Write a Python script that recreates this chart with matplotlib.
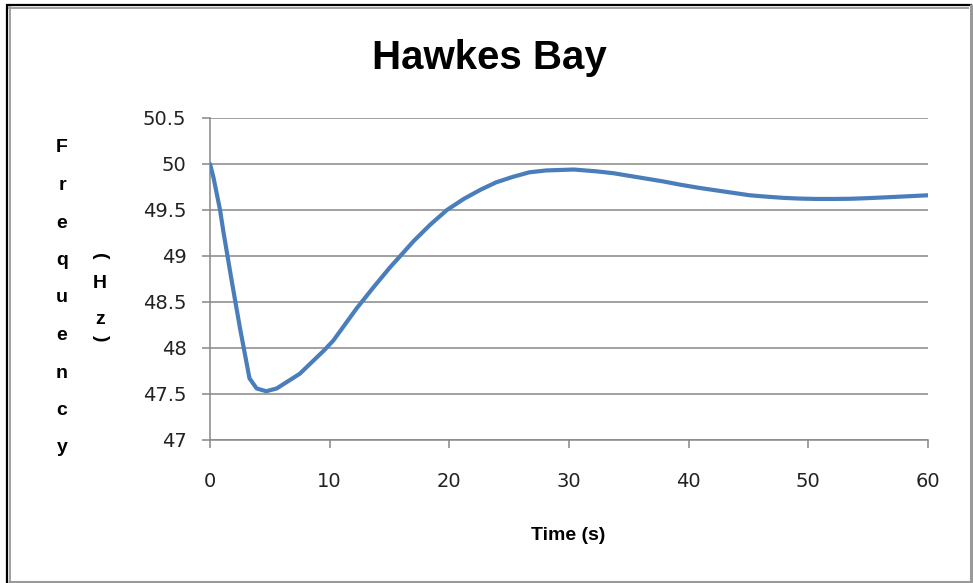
import matplotlib
matplotlib.use("Agg")
import matplotlib.pyplot as plt
from matplotlib.lines import Line2D

# ---- data ----
time_s = [0.0, 0.28, 0.84, 1.1, 1.8, 2.5, 3.3, 3.9, 4.7, 5.57, 7.5, 9.5, 10.3,
          12.25, 13.6, 15.0, 15.9, 17.0, 18.4, 19.8, 21.2, 22.6, 23.9, 25.3,
          26.7, 28.1, 30.4, 32.3, 33.7, 35.1, 36.5, 37.9, 39.3, 40.9, 43.0,
          45.1, 46.5, 47.9, 49.3, 50.7, 52.1, 53.5, 54.8, 56.2, 57.8, 60.0]
freq_hz = [50.0, 49.86, 49.50, 49.28, 48.74, 48.22, 47.67, 47.56, 47.53, 47.56,
           47.72, 47.97, 48.08, 48.43, 48.65, 48.87, 49.00, 49.16, 49.34, 49.50,
           49.62, 49.72, 49.80, 49.86, 49.91, 49.93, 49.94, 49.92, 49.90, 49.87,
           49.84, 49.81, 49.775, 49.74, 49.70, 49.66, 49.645, 49.632, 49.624,
           49.62, 49.62, 49.622, 49.628, 49.636, 49.646, 49.66]
x_ticks = [0, 10, 20, 30, 40, 50, 60]
y_ticks = [47, 47.5, 48, 48.5, 49, 49.5, 50, 50.5]
y_tick_labels = ["47", "47.5", "48", "48.5", "49", "49.5", "50", "50.5"]
title = "Hawkes Bay"
x_label = "Time (s)"
y_label_main = "Frequency"
y_label_unit = "(Hz)"

W, H = 973, 583
fig = plt.figure(figsize=(W / 100, H / 100), dpi=100)
fig.patch.set_facecolor("white")

def fx(px):
    return px / W

def fy(py):
    return 1 - py / H

ax = fig.add_axes([fx(210), fy(440), fx(928) - fx(210), fy(118) - fy(440)])
ax.plot(time_s, freq_hz, color="#4A7EBB", lw=3.0, solid_capstyle="round",
        solid_joinstyle="round", zorder=3)
ax.set_xlim(0, 60)
ax.set_ylim(47, 50.5)
ax.set_xticks(x_ticks)
ax.set_yticks(y_ticks)
ax.set_yticklabels(y_tick_labels)
grid_c = "#888888"
ax.grid(axis="y", color=grid_c, lw=1.1)
ax.set_axisbelow(True)
for s in ["top", "right"]:
    ax.spines[s].set_visible(False)
for s in ["left", "bottom"]:
    ax.spines[s].set_color(grid_c)
    ax.spines[s].set_linewidth(1.1)
ax.tick_params(axis="both", direction="out", length=6, width=1.1, color=grid_c,
               labelcolor="#222222")
ax.tick_params(axis="y", pad=11)
ax.tick_params(axis="x", pad=17)
for lab in ax.get_xticklabels() + ax.get_yticklabels():
    lab.set_fontfamily("DejaVu Sans")
    lab.set_fontsize(14)

# title
fig.text(fx(489), fy(58), title, ha="center", va="center",
         fontsize=29, fontweight="bold", family="Liberation Sans")
# x label
fig.text(fx(568), fy(536), x_label, ha="center", va="center",
         fontsize=14, fontweight="bold", family="Liberation Sans")
# stacked y label
for i, ch in enumerate(y_label_main):
    fig.text(fx(62), fy(146 + 37.5 * i), ch, ha="center", va="center_baseline",
             fontsize=14, fontweight="bold", family="Liberation Sans")
unit_pos = [256, 283, 320, 338]
for ch, py in zip(y_label_unit, unit_pos):
    rot = -90 if ch in "()" else 0
    fig.text(fx(100), fy(py), ch, ha="center", va="center", rotation=rot,
             fontsize=14, fontweight="bold", family="Liberation Sans")

# frame around the chart
def hline(y, x0, x1, c, lw):
    fig.add_artist(Line2D([fx(x0), fx(x1)], [fy(y), fy(y)], color=c, lw=lw,
                          transform=fig.transFigure, solid_capstyle="butt"))

def vline(x, y0, y1, c, lw):
    fig.add_artist(Line2D([fx(x), fx(x)], [fy(y0), fy(y1)], color=c, lw=lw,
                          transform=fig.transFigure, solid_capstyle="butt"))

hline(5, 6, 972, "black", 1.6)
vline(7, 4, 583, "black", 1.6)
hline(7.5, 8, 969, "#a0a0a0", 1.4)
vline(9.5, 6, 581, "#a0a0a0", 1.4)
vline(970.5, 4, 583, "#9a9a9a", 2.2)
hline(581.5, 8, 972, "#9a9a9a", 2.2)

fig.savefig("out.png", dpi=100, facecolor="white")
